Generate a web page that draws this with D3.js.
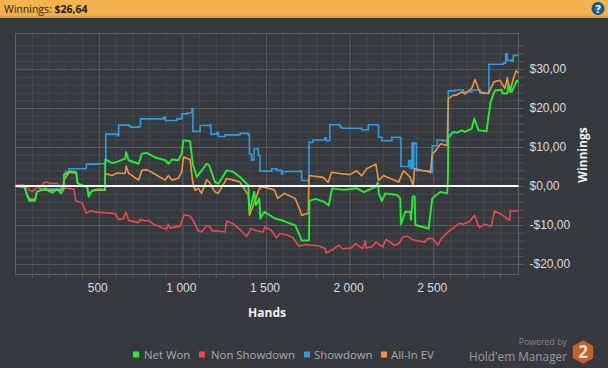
<!DOCTYPE html>
<html><head><meta charset="utf-8">
<script src="https://cdnjs.cloudflare.com/ajax/libs/d3/7.8.5/d3.min.js"></script>
<style>
html,body{margin:0;padding:0;background:#36393d}
svg{display:block;font-family:"Open Sans","Noto Sans",sans-serif}
</style></head><body><svg id="c" width="608" height="368"></svg>
<script>
const netWon=[[2,0],[55,-.3],[70,-2.2],[85,-3.8],[118,-3.8],[130,-1.5],[160,-1],[180,-.6],[200,-1.3],[225,-1.7],[250,-.8],[275,-1.9],[288,-.9],[292,2.9],[300,3],[325,3.8],[365,3.6],[372,1],[380,.5],[430,-.2],[440,-2.8],[455,-1.5],[470,-1],[510,-.8],[537,-1],[539,6.8],[579,5.9],[608,6.2],[658,7],[664,8.7],[678,6.6],[738,5.7],[758,8.3],[787,8.5],[837,7.3],[897,6.6],[917,5.7],[937,6.8],[976,6.6],[996,8.3],[1006,11.7],[1046,11.5],[1062,5.7],[1086,2.3],[1116,4],[1145,5.7],[1160,5.3],[1195,1],[1215,.6],[1265,4],[1305,3.6],[1344,2.3],[1394,.2],[1401,-6.6],[1430,-1.5],[1440,-4.9],[1460,-3.2],[1466,-8.4],[1490,-6.6],[1556,-8.4],[1596,-8.8],[1675,-10.1],[1715,-14],[1753,-13.9],[1757,-13.9],[1760,-3.8],[1795,-3.3],[1845,-4],[1875,-5],[1895,-.6],[1965,-1],[2045,-.6],[2085,-1.6],[2155,-.2],[2169,.9],[2175,-1.9],[2193,-3.8],[2213,-1.9],[2283,-2.3],[2303,-3.2],[2307,-9.8],[2333,-6.6],[2363,-6.6],[2367,-8.7],[2377,-2.7],[2389,-2.7],[2393,-10],[2473,-10.9],[2494,-3.2],[2544,-1.5],[2584,-1.9],[2588,2],[2590,12.4],[2620,13.9],[2640,13.6],[2670,14.3],[2690,13.9],[2730,14.7],[2746,17.3],[2770,14.3],[2819,14],[2829,17.3],[2843,21.5],[2869,24.5],[2909,24.7],[2915,23.7],[2943,23.7],[2949,26.2],[2969,24.1],[3000,27],[3010,26.7]];
const nonShowdown=[[2,.1],[40,.3],[73,-.2],[85,-1],[102,-1.5],[125,-.6],[152,-.4],[170,.7],[182,1.1],[215,.6],[251,.7],[270,-.2],[291,-.6],[320,-.6],[351,-.8],[363,-3.8],[385,-4.1],[401,-4.4],[426,-7],[449,-6.4],[489,-6.7],[548,-6.9],[598,-7.1],[618,-8.6],[648,-8.4],[662,-6.7],[678,-8.8],[737,-9.4],[747,-8.6],[777,-9],[797,-8.8],[827,-9.8],[857,-10.3],[906,-11.1],[916,-9.8],[926,-10.8],[986,-10.3],[1010,-7.4],[1046,-7.7],[1066,-9],[1095,-11.5],[1115,-11.8],[1145,-10.1],[1165,-10.5],[1181,-11.6],[1205,-11.5],[1255,-11.8],[1265,-9],[1304,-9.7],[1344,-11.2],[1384,-12.9],[1410,-10.9],[1443,-11.5],[1483,-11.8],[1493,-10.5],[1533,-11.4],[1563,-13.3],[1583,-12.2],[1622,-12.5],[1662,-13.3],[1692,-15.2],[1699,-15.4],[1739,-15],[1819,-15.4],[1855,-16.1],[1859,-17.2],[1899,-16.3],[1935,-15.2],[1959,-16.1],[2009,-15.9],[2035,-14.8],[2078,-16.1],[2094,-14.1],[2098,-15.9],[2134,-15.6],[2158,-14.4],[2198,-15.6],[2218,-13.7],[2268,-15.2],[2298,-14.6],[2318,-13.1],[2348,-12.9],[2378,-13.8],[2448,-14.4],[2468,-13.5],[2498,-13.5],[2528,-15.2],[2548,-13.5],[2588,-11.8],[2628,-10.5],[2658,-9.5],[2678,-9.8],[2717,-9.2],[2747,-7.5],[2767,-9.8],[2777,-10.7],[2807,-9.8],[2847,-10.3],[2867,-6.4],[2907,-7.3],[2957,-8.8],[2961,-6.4],[3010,-6.4]];
const showdown=[[2,0],[150,-.8],[285,-.7],[292,3],[300,3.6],[321,4.4],[415,4.4],[425,5.6],[500,5.7],[535,5.9],[542,13.3],[609,12.9],[619,15.6],[680,15.4],[690,15.1],[739,15.2],[749,17.2],[888,17.6],[898,16.8],[967,17.2],[997,18.5],[1030,18.7],[1057,19.8],[1063,14],[1106,15.5],[1166,15.7],[1170,13.3],[1206,13.7],[1216,12.7],[1255,13.1],[1345,13.5],[1395,13.1],[1401,8.2],[1414,6.7],[1428,9.5],[1454,7.8],[1464,3.8],[1534,4.4],[1564,4],[1593,3.1],[1599,3.7],[1703,3.8],[1713,1.4],[1753,1.3],[1757,11.2],[1781,11.8],[1851,12.3],[1861,11.6],[1878,11.6],[1882,15.7],[1942,15.2],[1952,14.8],[2072,14.4],[2112,15.7],[2167,15.6],[2173,12.5],[2193,11.6],[2253,12.5],[2303,12.3],[2307,5],[2343,5],[2353,6.5],[2363,4.5],[2369,4.5],[2373,11],[2378,11],[2381,4.5],[2384,11],[2396,10.8],[2400,3.9],[2484,3.5],[2494,10.3],[2524,11.8],[2554,11.6],[2584,10.8],[2590,24.4],[2630,24.6],[2680,24.1],[2730,24.6],[2780,23.7],[2829,23.7],[2833,31.2],[2919,31.5],[2933,33.8],[2943,32.2],[2969,32],[2979,33.5],[3010,33.5]];
const allInEV=[[2,0],[60,-.3],[73,-2.6],[90,-3.4],[118,-3.4],[130,-1.5],[160,-1],[200,-1.1],[250,-1],[288,-1.1],[292,1.5],[305,2.4],[325,3.5],[365,3.3],[372,.8],[385,.3],[430,-.2],[440,-2.2],[455,-1.4],[480,-1.1],[537,-1.1],[539,3.2],[579,2.7],[608,3.3],[658,3.2],[664,5.1],[678,3.3],[738,1.5],[758,4],[787,4.2],[837,3],[897,1.5],[917,2.7],[937,1.5],[976,2],[996,3.6],[1006,7.4],[1046,6.8],[1062,1],[1076,-1.1],[1096,-.6],[1115,-1.9],[1145,1.6],[1160,1],[1195,-1.5],[1214,-1.9],[1265,1.9],[1305,1.5],[1344,1],[1394,-2.3],[1401,-7.5],[1440,-3.2],[1460,-.6],[1480,-.2],[1550,-1],[1570,-3.2],[1610,-1.9],[1675,-3.2],[1715,-7.5],[1753,-7],[1757,2.7],[1842,2.2],[1872,.9],[1892,3.5],[1942,3.2],[2002,2.9],[2042,3.9],[2072,2.6],[2102,4.4],[2157,5.6],[2173,1.4],[2203,2.7],[2293,1],[2323,3.9],[2363,2.2],[2380,.1],[2388,4.4],[2484,3.5],[2494,8.2],[2514,9],[2544,10.8],[2584,10.4],[2590,22.4],[2620,23.3],[2640,23.3],[2670,24.1],[2690,23.6],[2730,25],[2750,27.3],[2770,25],[2780,24.1],[2829,23.7],[2849,25.4],[2863,26.7],[2899,27.1],[2929,25],[2943,27.8],[2959,24.1],[2979,27.5],[2995,29.5],[3010,29]];
const seriesNames=["Net Won","Non Showdown","Showdown","All-In EV"];
const seriesColors=["#22ee33","#e84a4f","#2f9be0","#f4943a"];
const xMajor=[500,1000,1500,2000,2500];
const yMajor=[-20,-10,0,10,20,30];
const xMinor=[100,200,300,400,600,700,800,900,1100,1200,1300,1400,1600,1700,1800,1900,2100,2200,2300,2400,2600,2700,2800,2900];
const yMinor=[-18,-16,-14,-12,-8,-6,-4,-2,2,4,6,8,12,14,16,18,22,24,26,28,32,34,36];
const headerLabel="Winnings: ", headerValue="$26,64";

const svg=d3.select("#c");
const L=15.5,R=518.5,T=33.5,B=274.5;
const x=d3.scaleLinear().domain([2,3010]).range([L,R]);
const y=d3.scaleLinear().domain([-22.7,39.1]).range([B,T]);
const money=d=>(d<0?"-":"")+"$"+Math.abs(d).toFixed(2).replace(".",",");
const thousands=d=>d>=1000?Math.floor(d/1000)+" "+String(d%1000).padStart(3,"0"):String(d);

const defs=svg.append("defs");
const gr=defs.append("linearGradient").attr("id","hd").attr("x1",0).attr("y1",0).attr("x2",0).attr("y2",1);
gr.append("stop").attr("offset",0).attr("stop-color","#f5b34f");
gr.append("stop").attr("offset",.8).attr("stop-color","#f3b04a");
gr.append("stop").attr("offset",1).attr("stop-color","#d89a42");
const ic=defs.append("radialGradient").attr("id","ic");
ic.append("stop").attr("offset",0).attr("stop-color","#2b7fc4");
ic.append("stop").attr("offset",1).attr("stop-color","#0d4a86");

svg.append("rect").attr("width",608).attr("height",368).attr("fill","#36393d");
svg.append("rect").attr("width",608).attr("height",18).attr("fill","url(#hd)");
const ht=svg.append("text").attr("x",4).attr("y",13).attr("font-size",10.5).attr("fill","#1d1d1d");
ht.append("tspan").text(headerLabel);
ht.append("tspan").attr("font-weight",700).text(headerValue);
svg.append("circle").attr("cx",598).attr("cy",8.5).attr("r",6.5).attr("fill","url(#ic)");
svg.append("text").attr("x",598).attr("y",12.5).attr("text-anchor","middle").attr("font-size",11).attr("font-weight",700).attr("fill","#fff").text("?");

// minor grid
const gMinX=svg.append("g").attr("transform",`translate(0,${B})`).call(d3.axisBottom(x).tickValues(xMinor).tickSize(4).tickFormat(""));
gMinX.select(".domain").remove();
gMinX.selectAll("line").attr("stroke","#5a5d60");
gMinX.selectAll(".tick").append("line").attr("y2",T-B).attr("stroke","#46494d");
const gMinY=svg.append("g").attr("transform",`translate(${R},0)`).call(d3.axisRight(y).tickValues(yMinor).tickSize(5).tickFormat(""));
gMinY.select(".domain").remove();
gMinY.selectAll("line").attr("stroke","#5a5d60");
gMinY.selectAll(".tick").append("line").attr("x2",L-R).attr("stroke","#46494d");

// major grid and labels
const gX=svg.append("g").attr("transform",`translate(0,${B})`).call(d3.axisBottom(x).tickValues(xMajor).tickSize(4).tickPadding(5).tickFormat(thousands));
gX.select(".domain").remove();
gX.selectAll("line").attr("stroke","#5f6265");
gX.selectAll(".tick").append("line").attr("y2",T-B).attr("stroke","#5a5d60");
gX.selectAll("text").attr("font-size",12).attr("font-family","inherit").attr("fill","#dcdcdc").attr("dx",-1.5);
const gY=svg.append("g").attr("transform",`translate(${R},0)`).call(d3.axisRight(y).tickValues(yMajor).tickSize(5).tickPadding(6).tickFormat(money));
gY.select(".domain").remove();
gY.selectAll("line").attr("stroke","#5f6265");
gY.selectAll(".tick").append("line").attr("x2",L-R).attr("stroke","#5a5d60");
gY.selectAll("text").attr("font-size",12).attr("font-family","inherit").attr("fill","#dcdcdc");
svg.append("rect").attr("x",L).attr("y",T).attr("width",R-L).attr("height",B-T).attr("fill","none").attr("stroke","#5f6265");

// series: blue and orange below, red and green above, as the overlaps in the picture show
const line=d3.line().x(d=>x(d[0])).y(d=>y(d[1])).curve(d3.curveLinear);
const stepLine=d3.line().x(d=>x(d[0])).y(d=>y(d[1])).curve(d3.curveStepAfter);
svg.append("path").datum(showdown).attr("d",stepLine).attr("fill","none").attr("stroke",seriesColors[2]).attr("stroke-width",1.6);
svg.append("path").datum(allInEV).attr("d",line).attr("fill","none").attr("stroke",seriesColors[3]).attr("stroke-width",1.6).attr("stroke-linejoin","round");
svg.append("path").datum(nonShowdown).attr("d",line).attr("fill","none").attr("stroke",seriesColors[1]).attr("stroke-width",1.6).attr("stroke-linejoin","round");
svg.append("path").datum(netWon).attr("d",line).attr("fill","none").attr("stroke",seriesColors[0]).attr("stroke-width",1.9).attr("stroke-linejoin","round");
svg.append("line").attr("x1",L).attr("x2",R).attr("y1",y(0)).attr("y2",y(0)).attr("stroke","#fff").attr("stroke-width",2);

// axis titles
svg.append("text").attr("x",267).attr("y",317).attr("text-anchor","middle").attr("font-size",12).attr("font-weight",700).attr("fill","#f0f0f0").text("Hands");
svg.append("text").attr("transform","translate(587,155) rotate(-90)").attr("text-anchor","middle").attr("font-size",12).attr("font-weight",700).attr("fill","#f0f0f0").text("Winnings");

// legend
const legendSwatchX=[133,199,304,381], legendTextX=[144,211,314,391];
seriesNames.forEach((n,i)=>{
  svg.append("rect").attr("x",legendSwatchX[i]).attr("y",351.5).attr("width",6).attr("height",6).attr("fill",seriesColors[i]);
  svg.append("text").attr("x",legendTextX[i]).attr("y",359).attr("font-size",11.4).attr("fill","#a9abad").text(n);
});

// branding
svg.append("text").attr("x",567).attr("y",344.5).attr("text-anchor","end").attr("font-size",8.8).attr("fill","#85878a").text("Powered by");
svg.append("text").attr("x",567).attr("y",360.5).attr("text-anchor","end").attr("font-size",11.8).attr("fill","#9a9c9e").text("Hold'em Manager");
const hex=d3.range(6).map(i=>{const a=Math.PI/3*i-Math.PI/2;return [583+11.8*Math.cos(a),352+11.8*Math.sin(a)];});
svg.append("polygon").attr("points",hex.map(p=>p.join(",")).join(" ")).attr("fill","#c5622b");
svg.append("text").attr("x",583).attr("y",358).attr("text-anchor","middle").attr("font-size",17).attr("font-weight",700).attr("fill","#e5e0da").text("2");
</script></body></html>
